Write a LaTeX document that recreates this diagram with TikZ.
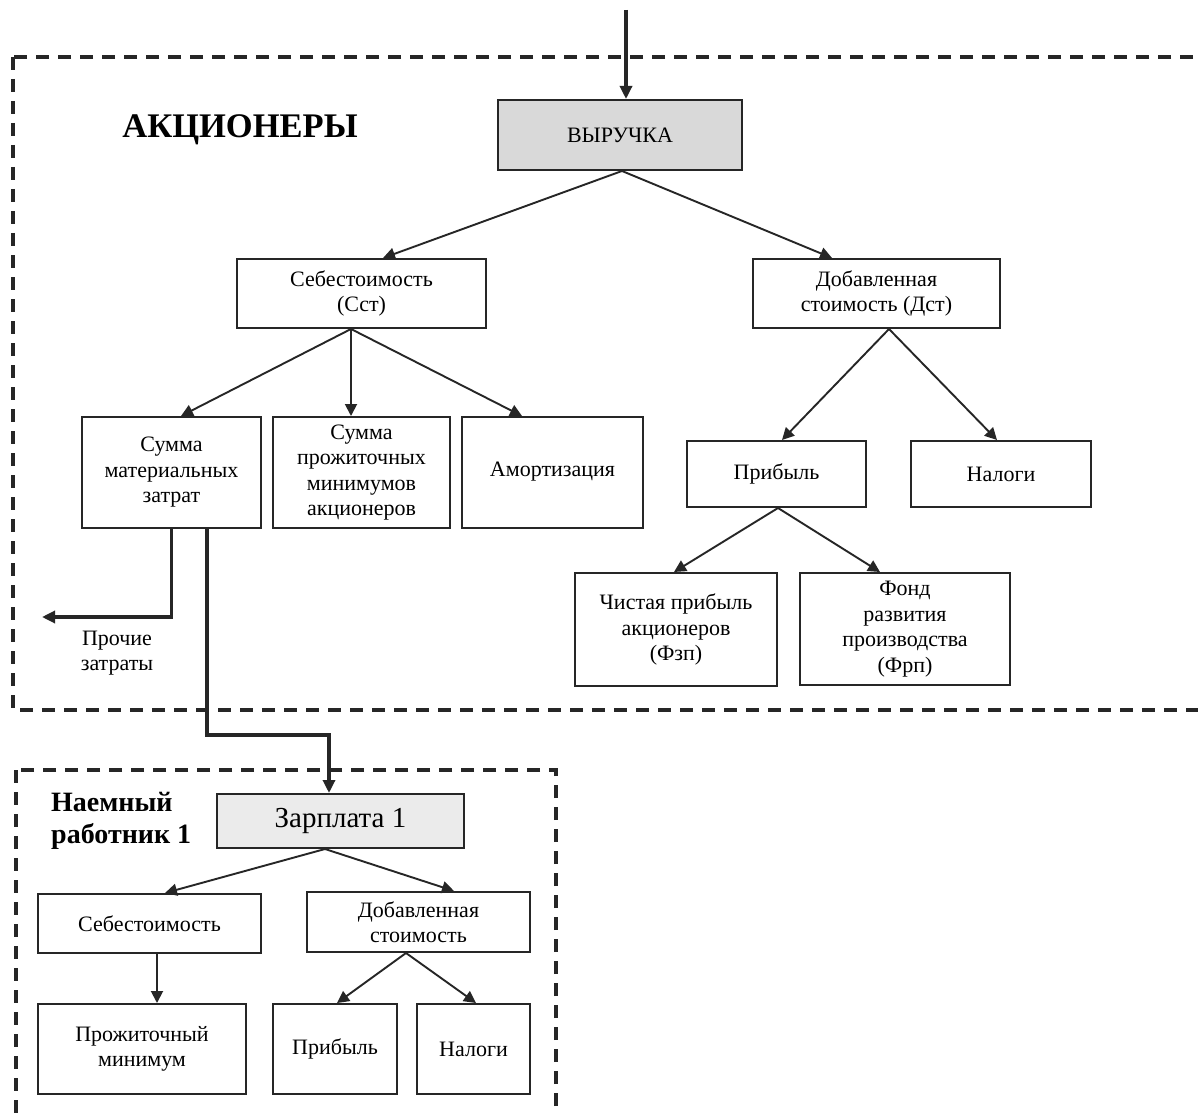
\documentclass[tikz,border=0pt]{standalone}
\usepackage{fontspec}
\setmainfont{Liberation Serif}
\usetikzlibrary{arrows.meta}
\newcommand\bxfont{\fontsize{22}{25.5}\selectfont}
\newcommand\bigfont{\fontsize{29}{33}\selectfont}
\newcommand\hdfont{\fontsize{34.5}{40}\selectfont\bfseries}
\newcommand\nrfont{\fontsize{28}{32}\selectfont\bfseries}
\definecolor{ln}{HTML}{262626}
\tikzset{
  box/.style={draw=ln, line width=2pt, align=center, inner sep=0pt, font=\bxfont, text=black},
  arr/.style={draw=ln, line width=1.9pt, -{Triangle[length=12pt,width=12pt]}},
  thickarr/.style={draw=ln, line width=3.2pt, -{Triangle[length=13pt,width=12pt]}},
  frame/.style={draw=ln, line width=3.2pt, dash pattern=on 13pt off 9pt},
}
\begin{document}
\begin{tikzpicture}[x=1pt,y=-1pt]
\useasboundingbox (0,0) rectangle (1198,1115);
\fill[white] (0,0) rectangle (1198,1115);
\clip (0,0) rectangle (1198,1115);

% frames
\draw[frame] (13,57) rectangle (1215,710);
\draw[frame] (16,770) rectangle (556,1130);

% top block
\node[box, fill=black!15, minimum width=244pt, minimum height=70pt] (vyr) at (620,135) {ВЫРУЧКА};
\node[font=\hdfont] (akc) at (240,130) {АКЦИОНЕРЫ};
\node[box, minimum width=249pt, minimum height=69pt] (sst) at (361.5,293.5) {Себестоимость\\(Сст)};
\node[box, minimum width=247pt, minimum height=69pt] (dst) at (876.5,293.5) {Добавленная\\стоимость (Дст)};
\node[box, minimum width=179pt, minimum height=111pt] (smz) at (171.5,472.5) {Сумма\\материальных\\затрат};
\node[box, minimum width=177pt, minimum height=111pt] (spm) at (361.5,472.5) {Сумма\\прожиточных\\минимумов\\акционеров};
\node[box, minimum width=181pt, minimum height=111pt] (amo) at (552.5,472.5) {\raisebox{7pt}{Амортизация}};
\node[box, minimum width=179pt, minimum height=66pt] (pri) at (776.5,474) {Прибыль};
\node[box, minimum width=180pt, minimum height=66pt] (nal) at (1001,474) {Налоги};
\node[box, minimum width=202pt, minimum height=113pt] (chp) at (676,629.5) {Чистая прибыль\\акционеров\\(Фзп)};
\node[box, minimum width=210pt, minimum height=112pt] (frp) at (905,629) {Фонд\\развития\\производства\\(Фрп)};
\node[font=\bxfont, align=center] (proch) at (117,653) {Прочие\\затраты};

% bottom block
\node[box, fill=black!8, font=\bigfont, minimum width=247pt, minimum height=54pt] (zp) at (340.5,821) {Зарплата 1};
\node[font=\nrfont, align=left, anchor=west, inner sep=0pt] (nr) at (51,821) {Наемный\\работник 1};
\node[box, minimum width=223pt, minimum height=59pt] (seb2) at (149.5,923.5) {Себестоимость};
\node[box, minimum width=223pt, minimum height=60pt] (dob2) at (418.5,922) {Добавленная\\стоимость};
\node[box, minimum width=208pt, minimum height=90pt] (pm) at (142,1049) {Прожиточный\\минимум};
\node[box, minimum width=124pt, minimum height=90pt] (pr2) at (335,1049) {Прибыль};
\node[box, minimum width=113pt, minimum height=90pt] (nal2) at (473.5,1049) {Налоги};

% coordinates
\coordinate (in) at (626,10);
\coordinate (pz) at (42,617);
\coordinate (zpin) at (329,735);

% connectors top
\draw[thickarr] (in) -- (in |- vyr.north);
\draw[arr] ([xshift=2pt]vyr.south) -- ([xshift=21.5pt]sst.north);
\draw[arr] ([xshift=2pt]vyr.south) -- ([xshift=-44.5pt]dst.north);
\draw[arr] ([xshift=-10.5pt]sst.south) -- ([xshift=9.5pt]smz.north);
\draw[arr] ([xshift=-10.5pt]sst.south) -- ([xshift=-10.5pt]spm.north);
\draw[arr] ([xshift=-10.5pt]sst.south) -- ([xshift=-30.5pt]amo.north);
\draw[arr] ([xshift=12.5pt]dst.south) -- ([xshift=5.5pt]pri.north);
\draw[arr] ([xshift=12.5pt]dst.south) -- ([xshift=-4pt]nal.north);
\draw[arr] ([xshift=1.5pt]pri.south) -- ([xshift=-2pt]chp.north);
\draw[arr] ([xshift=1.5pt]pri.south) -- ([xshift=-25pt]frp.north);
\draw[thickarr] (smz.south) |- (pz);
\draw[thickarr] ([xshift=35.5pt]smz.south) |- (zpin) -- (zpin |- zp.north);

% connectors bottom
\draw[arr] ([xshift=-15.5pt]zp.south) -- ([xshift=15.5pt]seb2.north);
\draw[arr] ([xshift=-15.5pt]zp.south) -- ([xshift=35.5pt]dob2.north);
\draw[arr] ([xshift=15pt]pm.north |- seb2.south) -- ([xshift=15pt]pm.north);
\draw[arr] ([xshift=-12.5pt]dob2.south) -- ([xshift=2pt]pr2.north);
\draw[arr] ([xshift=-12.5pt]dob2.south) -- ([xshift=2.5pt]nal2.north);
\end{tikzpicture}
\end{document}
